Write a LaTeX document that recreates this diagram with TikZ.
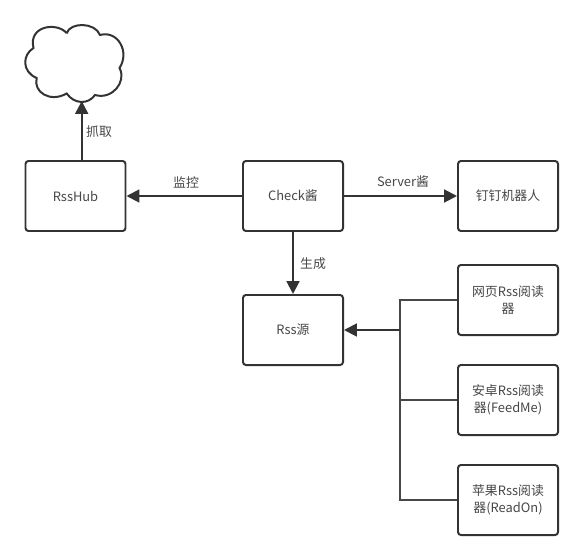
\documentclass[tikz,border=0pt]{standalone}
\usepackage{fontspec}
\setmainfont{Noto Sans CJK SC}
\usepackage{xcolor}
\usetikzlibrary{arrows.meta}
\definecolor{inkc}{HTML}{333333}
\begin{document}
\begin{tikzpicture}[x=0.03cm, y=-0.03cm, every node/.style={font=\fontsize{11pt}{14.5pt}\selectfont, text=inkc!90!white},
			bx/.style={draw=inkc, line width=1.7pt, rounded corners=2.5pt, minimum width=3cm, minimum height=2.1cm, inner sep=1pt, align=center, fill=white},
			ed/.style={-{Triangle[length=11pt, width=11pt]}, draw=inkc, line width=1.7pt},
			wr/.style={draw=inkc!90!white, line width=1.2pt}]
			\useasboundingbox (0,0) rectangle (583,560);
			\node[bx] (hub)   at (75.5,196) {RssHub};
			\node[bx] (chk)   at (293,196)  {Check酱};
			\node[bx] (bot)   at (508,196)  {钉钉机器人};
			\node[bx] (rss)   at (293,330)  {Rss源};
			\node[bx] (web)   at (508,300)  {网页Rss阅读\\器};
			\node[bx] (droid) at (508,400)  {安卓Rss阅读\\器(FeedMe)};
			\node[bx] (ios)   at (508,500)  {苹果Rss阅读\\器(ReadOn)};
			% cloud outline
			\draw[draw=inkc, line width=1.7pt] (66.7,33.3) .. controls (70,22) and (95,22) .. (100,35)
				.. controls (118,30) and (130,52) .. (119.5,68)
				.. controls (127,82) and (112,100) .. (95,95)
				.. controls (88,105) and (74,104) .. (66.7,93.5)
				.. controls (50,103) and (33,92) .. (36.7,78)
				.. controls (22,72) and (22,55) .. (33.5,48)
				.. controls (28,25) and (58,22) .. (66.7,33.3);
			\coordinate (tip) at (81.7,101);
			\coordinate (jn) at (400,330);
			\draw[ed] (hub.north -| tip) -- (tip);
			\draw[ed] (chk) -- (hub);
			\draw[ed] (chk) -- (bot);
			\draw[ed] (chk) -- (rss);
			\foreach \x in {web, droid, ios}
				\draw[wr] (\x.west) -| (jn);
			\draw[ed] (jn) -- (rss.east);
			\node (grab) at (99,132)  {抓取};
			\node (mon)  at (186,183) {监控};
			\node (srv)  at (403,182) {Server酱};
			\node (gen)  at (313,264) {生成};
		\end{tikzpicture}
\end{document}
